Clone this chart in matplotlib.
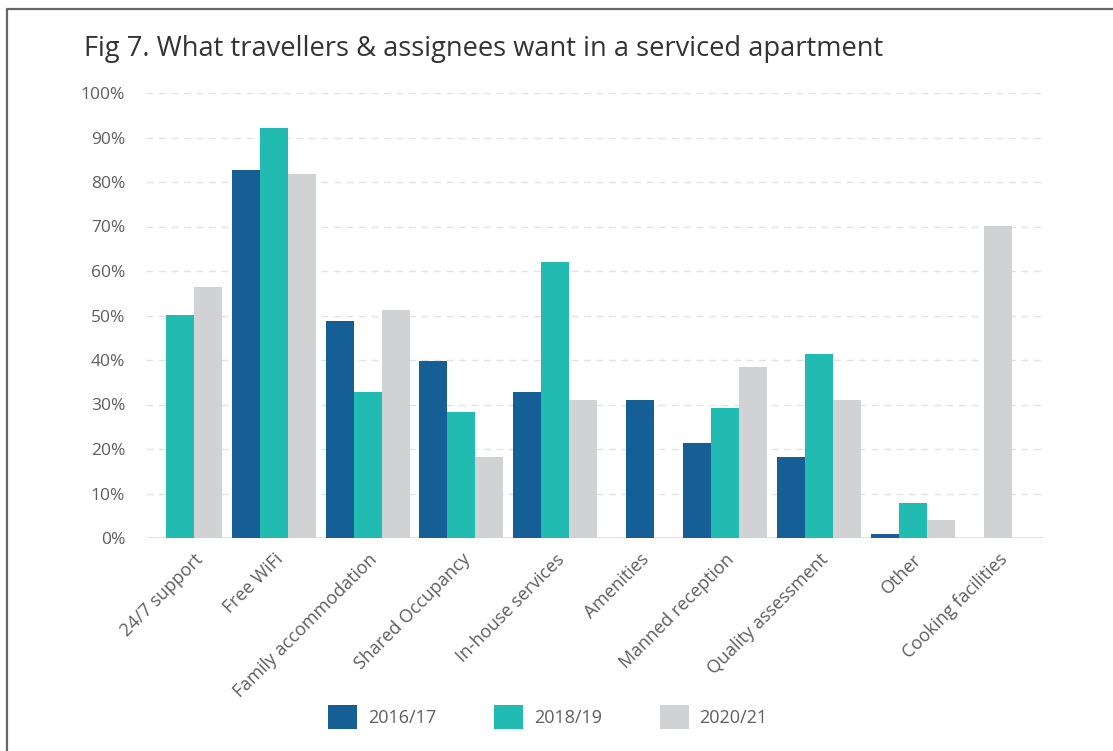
import numpy as np
import matplotlib
matplotlib.use("Agg")
import matplotlib.pyplot as plt
from matplotlib.lines import Line2D
from matplotlib.patches import Patch

plt.rcParams['font.family'] = ['Open Sans', 'DejaVu Sans']

categories = ["24/7 support", "Free WiFi", "Family accommodation", "Shared Occupancy",
              "In-house services", "Amenities", "Manned reception", "Quality assessment",
              "Other", "Cooking facilities"]
years = ["2016/17", "2018/19", "2020/21"]

# None = not asked that year
y2016 = [None, 82.8, 48.8, 39.7, 32.8, 31.0, 21.3, 18.1, 1.0, None]
y2018 = [50.1, 92.2, 32.8, 28.3, 62.0, None, 29.2, 41.3, 7.8, None]
y2020 = [56.5, 81.7, 51.2, 18.1, 31.0, None, 38.4, 31.0, 4.0, 70.1]

colors = ["#155f96", "#21bbb1", "#d1d2d4"]
text_col = "#5e5e5e"

W, H = 1113, 751
fig = plt.figure(figsize=(W / 100, H / 100), dpi=100)
ax = fig.add_axes([146 / W, 1 - 538 / H, (1043 - 146) / W, (538 - 93) / H])

# groups are packed left to right; groups with a single bar get wider side padding
bar_w = 1.0
pad_multi = 0.175
pad_single = 0.86
x = 0.0
centers = []
for i, cat in enumerate(categories):
    vals = [(k, s[i]) for k, s in enumerate([y2016, y2018, y2020]) if s[i] is not None]
    pad = pad_single if len(vals) == 1 else pad_multi
    x += pad
    start = x
    for k, v in vals:
        ax.bar(x, v, width=bar_w, align="edge", color=colors[k], zorder=3, linewidth=0)
        x += bar_w
    centers.append((start + x) / 2)
    x += pad

ax.set_xlim(-0.54, x + 0.25)
ax.set_ylim(0, 100)
ax.set_yticks(np.arange(0, 101, 10))
ax.set_yticklabels([f"{v}%" for v in range(0, 101, 10)], fontsize=12.5, color=text_col)
ax.set_xticks(centers)
ax.set_xticklabels(categories, rotation=45, ha="right", rotation_mode="anchor",
                   fontsize=13, color=text_col)
ax.tick_params(axis="both", length=0)
ax.tick_params(axis="y", pad=15)
ax.tick_params(axis="x", pad=9)

for s in ax.spines.values():
    s.set_visible(False)
ax.yaxis.grid(True, color="#e3e3e3", linestyle=(0, (5, 4)), linewidth=1.0, zorder=0)
ax.axhline(0, color="#e3e3e3", linewidth=1.5, zorder=1)

fig.text(84 / W, 1 - 56 / H, "Fig 7. What travellers & assignees want in a serviced apartment",
         fontsize=19.6, color="#333333", va="baseline", ha="left")

handles = [Patch(facecolor=c, edgecolor="none") for c in colors]
fig.legend(handles, years, loc="center", bbox_to_anchor=(548 / W, 1 - 717 / H), ncol=3,
           frameon=False, fontsize=13, handlelength=1.6, handleheight=1.6,
           handletextpad=0.6, columnspacing=3.2, labelcolor=text_col)

# outer frame
fig.add_artist(Line2D([7 / W, 7 / W, 1.01], [-0.01, 1 - 9 / H, 1 - 9 / H],
                      transform=fig.transFigure, color="#666666", linewidth=1.6))

fig.savefig("out.png", dpi=100)
